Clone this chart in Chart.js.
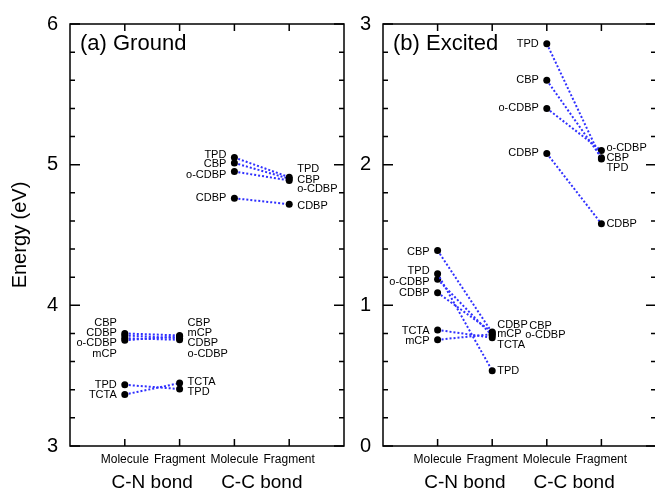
<!DOCTYPE html>
<html>
<head>
<meta charset="utf-8">
<script src="https://cdn.jsdelivr.net/npm/chart.js@4.4.0/dist/chart.umd.min.js"></script>
<style>
  html, body { margin: 0; padding: 0; background: #fff; overflow: hidden; }
  #wrap { position: relative; width: 655px; height: 493px; overflow: hidden; }
  #ground { position: absolute; left: 0; top: 0; }
  #excited { position: absolute; left: 350px; top: 0; }
</style>
</head>
<body>
<div id="wrap">
  <canvas id="ground" width="350" height="493"></canvas>
  <canvas id="excited" width="310" height="493"></canvas>
</div>
<script>
const xTickLabels = ['Molecule', 'Fragment', 'Molecule', 'Fragment'];
const bondLabels = ['C-N bond', 'C-C bond'];

// (a) Ground
const groundCNNames = ['CBP', 'CDBP', 'o-CDBP', 'mCP', 'TPD', 'TCTA'];
const groundCNMolecule = [3.80, 3.786, 3.766, 3.752, 3.435, 3.366];
const groundCNFragment = [3.786, 3.766, 3.755, 3.78, 3.405, 3.447];
const groundCCNames = ['TPD', 'CBP', 'o-CDBP', 'CDBP'];
const groundCCMolecule = [5.051, 5.012, 4.951, 4.761];
const groundCCFragment = [4.911, 4.90, 4.888, 4.719];

// (b) Excited
const excitedCNNames = ['CBP', 'TPD', 'o-CDBP', 'CDBP', 'TCTA', 'mCP'];
const excitedCNMolecule = [1.39, 1.225, 1.185, 1.09, 0.825, 0.755];
const excitedCNFragment = [0.805, 0.535, 0.785, 0.81, 0.77, 0.795];
const excitedCCNames = ['TPD', 'CBP', 'o-CDBP', 'CDBP'];
const excitedCCMolecule = [2.86, 2.60, 2.40, 2.08];
const excitedCCFragment = [2.04, 2.05, 2.10, 1.58];

// label nudges in px so the names don't sit on top of each other
const groundCNMolDy = [-10, -2, 5, 14, 0, 0];
const groundCNFragDy = [-12, 5, 14, -3, 3, -1];
const groundCCMolDy = [-3, 1, 3, 0];
const groundCCFragDy = [-8, 1, 9, 2];
const excitedCNMolDy = [1, -3, 3, 0, 1, 1];
const excitedCNFragDy = [-7, 0, -1, -7, 7, 0];
const excitedCNFragDx = [32, 0, 28, 0, 0, 0];
const excitedCCMolDy = [0, 0, 0, 0];
const excitedCCFragDy = [9, 0, -3, 0];

Chart.defaults.font.family = '"Liberation Sans", Arial, sans-serif';
Chart.defaults.color = '#000';

function buildSeries(names, mol, frag, xMol, molDy, fragDy, fragDx) {
  return names.map((name, i) => ({
    label: name,
    data: [{ x: xMol, y: mol[i] }, { x: xMol + 1, y: frag[i] }],
    labelDy: [molDy[i], fragDy[i]],
    labelDx: fragDx ? fragDx[i] : 0,
    borderColor: '#3030ff',
    borderWidth: 2,
    borderDash: [2, 2],
    pointRadius: 3.5,
    pointBackgroundColor: '#000',
    pointBorderColor: '#000',
    pointBorderWidth: 0,
    fill: false,
    tension: 0
  }));
}

const panelDecor = {
  id: 'panelDecor',
  afterDatasetsDraw(chart, args, opts) {
    const ctx = chart.ctx;
    ctx.save();
    ctx.font = '11px "Liberation Sans", Arial, sans-serif';
    ctx.fillStyle = '#000';
    ctx.textBaseline = 'middle';
    chart.data.datasets.forEach((ds, i) => {
      const pts = chart.getDatasetMeta(i).data;
      ctx.textAlign = 'right';
      ctx.fillText(ds.label, pts[0].x - opts.gapLeft, pts[0].y + ds.labelDy[0]);
      ctx.textAlign = 'left';
      ctx.fillText(ds.label, pts[1].x + opts.gapRight + ds.labelDx, pts[1].y + ds.labelDy[1]);
    });
    ctx.restore();
  },
  afterDraw(chart, args, opts) {
    const { ctx, chartArea: a, scales: { x, y } } = chart;
    ctx.save();
    ctx.strokeStyle = '#000';
    ctx.lineWidth = 1.5;
    ctx.strokeRect(a.left, a.top, a.right - a.left, a.bottom - a.top);
    ctx.beginPath();
    const n = Math.round((y.max - y.min) / 0.2);
    for (let i = 0; i <= n; i++) {
      const py = y.getPixelForValue(y.min + i * 0.2);
      const len = i % 5 === 0 ? 10 : 5;
      ctx.moveTo(a.left, py); ctx.lineTo(a.left + len, py);
      ctx.moveTo(a.right, py); ctx.lineTo(a.right - len, py);
    }
    x.ticks.forEach(t => {
      const px = x.getPixelForValue(t.value);
      ctx.moveTo(px, a.bottom); ctx.lineTo(px, a.bottom - 7);
      ctx.moveTo(px, a.top); ctx.lineTo(px, a.top + 7);
    });
    ctx.stroke();

    ctx.fillStyle = '#000';
    ctx.textBaseline = 'middle';
    ctx.textAlign = 'left';
    ctx.font = '22px "Liberation Sans", Arial, sans-serif';
    ctx.fillText(opts.title, a.left + 10, a.top + 20);

    ctx.textAlign = 'center';
    ctx.font = '19px "Liberation Sans", Arial, sans-serif';
    bondLabels.forEach((txt, k) => {
      const cx = (x.getPixelForValue(2 * k + 1) + x.getPixelForValue(2 * k + 2)) / 2;
      ctx.fillText(txt, cx, a.bottom + 37);
    });
    ctx.restore();
  }
};

function makeScales(yMin, yMax, yWidth, withTitle) {
  return {
    x: {
      type: 'linear', min: 0, max: 5,
      afterBuildTicks: s => { s.ticks = xTickLabels.map((_, i) => ({ value: i + 1 })); },
      afterFit: s => { s.height = 47; },
      grid: { display: false, drawTicks: false },
      border: { display: false },
      ticks: {
        autoSkip: false, maxRotation: 0, padding: 6, color: '#000',
        font: { size: 12 },
        callback: v => xTickLabels[v - 1]
      }
    },
    y: {
      type: 'linear', min: yMin, max: yMax,
      afterFit: s => { s.width = yWidth; },
      grid: { display: false, drawTicks: false },
      border: { display: false },
      ticks: { stepSize: 1, padding: 12, color: '#000', font: { size: 20 } },
      title: {
        display: withTitle, text: 'Energy (eV)', color: '#000',
        font: { size: 20 }, padding: { top: 8, bottom: 0 }
      }
    }
  };
}

function makeChart(id, datasets, yMin, yMax, yWidth, rightPad, withTitle, title, gapLeft, gapRight) {
  return new Chart(document.getElementById(id), {
    type: 'line',
    data: { datasets },
    options: {
      responsive: false,
      animation: false,
      layout: { padding: { top: 16, right: rightPad, left: 0, bottom: 0 } },
      scales: makeScales(yMin, yMax, yWidth, withTitle),
      plugins: {
        legend: { display: false },
        tooltip: { enabled: false },
        panelDecor: { title, gapLeft, gapRight }
      }
    },
    plugins: [panelDecor]
  });
}

makeChart('ground', [
  ...buildSeries(groundCNNames, groundCNMolecule, groundCNFragment, 1, groundCNMolDy, groundCNFragDy),
  ...buildSeries(groundCCNames, groundCCMolecule, groundCCFragment, 3, groundCCMolDy, groundCCFragDy)
], 3, 6, 70, 6, true, '(a) Ground', 8, 8);

makeChart('excited', [
  ...buildSeries(excitedCNNames, excitedCNMolecule, excitedCNFragment, 1, excitedCNMolDy, excitedCNFragDy, excitedCNFragDx),
  ...buildSeries(excitedCCNames, excitedCCMolecule, excitedCCFragment, 3, excitedCCMolDy, excitedCCFragDy)
], 0, 3, 33, 3, false, '(b) Excited', 8, 5);
</script>
</body>
</html>
